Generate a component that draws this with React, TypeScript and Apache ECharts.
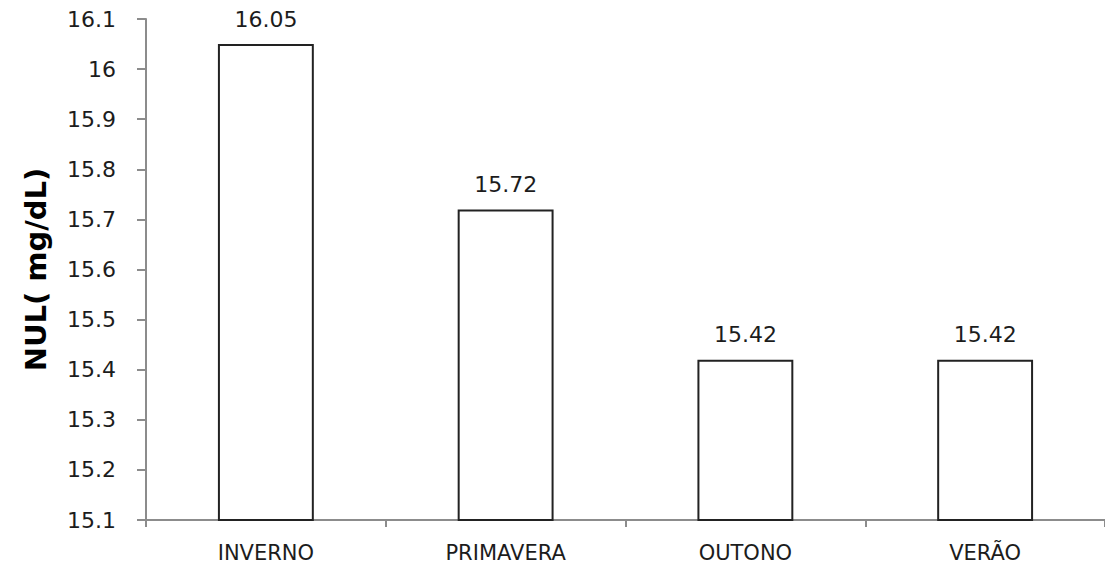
import React, { useEffect, useRef } from "react";
import * as echarts from "echarts";

// Seasonal NUL means (mg/dL)
const seasons = ["INVERNO", "PRIMAVERA", "OUTONO", "VERÃO"];
const nulValues = [16.05, 15.72, 15.42, 15.42];
const yTicks = [15.1, 15.2, 15.3, 15.4, 15.5, 15.6, 15.7, 15.8, 15.9, 16.0, 16.1];
const yTitle = "NUL( mg/dL)";

const FONT = "'DejaVu Sans', Verdana, sans-serif";
const TEXT = "#1c1c1c";
const AXIS = "#8c8c8c";

export default function App() {
  const ref = useRef<HTMLDivElement>(null);

  useEffect(() => {
    if (!ref.current) return;
    const chart = echarts.init(ref.current, undefined, { renderer: "svg" });
    chart.setOption({
      animation: false,
      backgroundColor: "#ffffff",
      grid: { left: 146, right: 0, top: 19, bottom: 47, containLabel: false },
      xAxis: {
        type: "category",
        data: seasons,
        axisLine: { lineStyle: { color: AXIS, width: 2 } },
        axisTick: { show: true, length: 7, lineStyle: { color: AXIS, width: 2 } },
        axisLabel: { color: TEXT, fontFamily: FONT, fontSize: 21, margin: 22 },
      },
      yAxis: {
        type: "value",
        min: yTicks[0],
        max: yTicks[yTicks.length - 1],
        interval: 0.1,
        name: yTitle,
        nameLocation: "middle",
        nameRotate: 90,
        nameGap: 96,
        nameTextStyle: { color: "#000", fontFamily: FONT, fontSize: 29, fontWeight: "bold" },
        splitLine: { show: false },
        axisLine: { show: true, lineStyle: { color: AXIS, width: 2 } },
        axisTick: { show: true, length: 9, lineStyle: { color: AXIS, width: 2 } },
        axisLabel: {
          color: TEXT,
          fontFamily: FONT,
          fontSize: 22,
          margin: 30,
          formatter: (v: number) => String(Math.round(v * 10) / 10),
        },
      },
      series: [
        {
          type: "bar",
          data: nulValues,
          barWidth: "40%",
          itemStyle: { color: "#ffffff", borderColor: "#222222", borderWidth: 2 },
          label: {
            show: true,
            position: "top",
            distance: 14,
            color: TEXT,
            fontFamily: FONT,
            fontSize: 22,
            formatter: (p: any) => p.value.toFixed(2),
          },
        },
      ],
    });
    return () => chart.dispose();
  }, []);

  return (
    <div
      ref={ref}
      style={{ position: "fixed", left: 0, top: 0, width: 1105, height: 567, background: "#fff" }}
    />
  );
}
